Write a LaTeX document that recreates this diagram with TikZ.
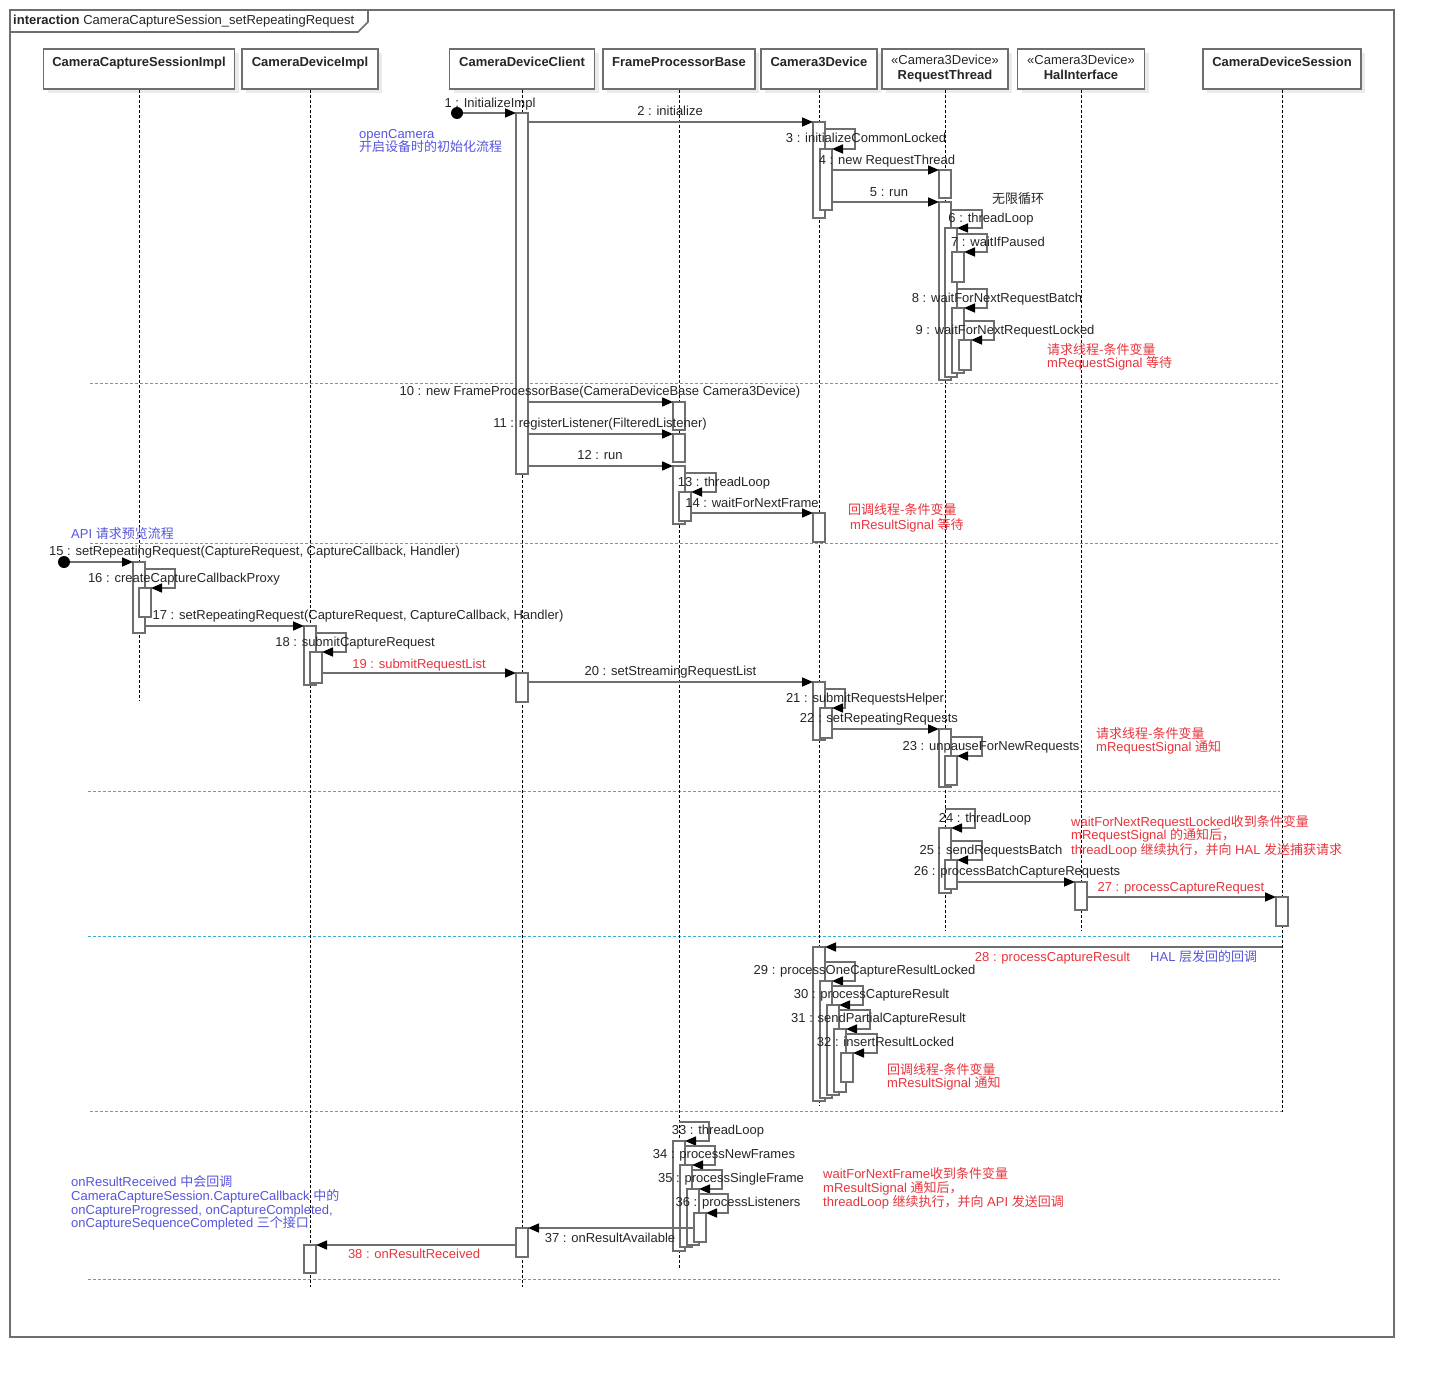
\documentclass[tikz,border=0pt]{standalone}
\usepackage{fontspec}
\setmainfont{Liberation Sans}
\newfontfamily\cjk{Noto Sans CJK SC}
\usetikzlibrary{arrows.meta,shadows}
\definecolor{lg}{HTML}{6E6E6E}
\definecolor{nred}{HTML}{E8353D}
\definecolor{nblue}{HTML}{5555DD}
\definecolor{sepc}{HTML}{3AA8D8}
\newcommand\zh[1]{{\cjk #1}}
\newcommand\mylbl[5][]{\node[lbl,#1] (#2) at (#3,#4+4.5) {#5};}
\newcommand\myact[4]{\node[act, minimum height={#4-#3}, anchor=north] (#1) at (#2,#3) {};}
\newcommand\myself[4]{\draw[msg] (#1.north east |- 0,#2) -- (#3,#2) |- (#4.north east);}
\tikzset{
  every node/.style={font=\fontsize{13}{15}\selectfont},
  frame/.style={draw=lg, line width=1.6},
  head/.style={draw=lg, line width=1.7, fill=white, minimum height=40, inner sep=0,
    general shadow={fill=black!8, shadow xshift=4pt, shadow yshift=-4pt}},
  act/.style={draw=lg, line width=1.6, fill=white, minimum width=12, inner sep=0, outer sep=0},
  lifeline/.style={black, line width=0.8, dash pattern=on 3pt off 2pt},
  msg/.style={lg, line width=1.6, -{Triangle[length=11pt,width=9pt,color=black]}},
  sepline/.style={sepc, line width=1, dash pattern=on 3pt off 2pt},
  lbl/.style={inner sep=0, anchor=base, text=black!85},
  lw/.style={anchor=base west},
  rednote/.style={text=nred},
  bluenote/.style={text=nblue},
  startdot/.style={circle, fill=black, minimum size=12, inner sep=0},
}
\begin{document}
\begin{tikzpicture}[x=1pt,y=-1pt]
\useasboundingbox (0,0) rectangle (1434,1378);
\fill[white] (0,0) rectangle (1434,1378);
% frame
\draw[frame] (10,10) rectangle (1394,1337);
\draw[frame] (10,32) -- (358,32) -- (368,22) -- (368,10);
\node[lbl, lw] (title) at (13,24.5) {\textbf{interaction} CameraCaptureSession\_setRepeatingRequest};
% separators
\draw[sepline] (90,383) -- (1280,383);
\draw[sepline] (90,543) -- (1280,543);
\draw[sepline] (88,791) -- (1280,791);
\draw[sepline] (88,936) -- (1282,936);
\draw[sepline] (90,1111) -- (1282,1111);
\draw[sepline] (88,1279) -- (1280,1279);
% heads
\node[head, minimum width=191] (h1) at (139,69) {};
\node[head, minimum width=136] (h2) at (310,69) {};
\node[head, minimum width=145] (h3) at (522,69) {};
\node[head, minimum width=152] (h4) at (679,69) {};
\node[head, minimum width=116] (h5) at (819,69) {};
\node[head, minimum width=126] (h6) at (945,69) {};
\node[head, minimum width=127] (h7) at (1081,69) {};
\node[head, minimum width=158] (h8) at (1282,69) {};
\node[lbl] (t1) at (139,66.5) {\textbf{CameraCaptureSessionImpl}};
\node[lbl] (t2) at (310,66.5) {\textbf{CameraDeviceImpl}};
\node[lbl] (t3) at (522,66.5) {\textbf{CameraDeviceClient}};
\node[lbl] (t4) at (679,66.5) {\textbf{FrameProcessorBase}};
\node[lbl] (t5) at (819,66.5) {\textbf{Camera3Device}};
\node[lbl] (t6a) at (945,64.5) {«Camera3Device»};
\node[lbl] (t6b) at (945,79.5) {\textbf{RequestThread}};
\node[lbl] (t7a) at (1081,64.5) {«Camera3Device»};
\node[lbl] (t7b) at (1081,79.5) {\textbf{HalInterface}};
\node[lbl] (t8) at (1282,66.5) {\textbf{CameraDeviceSession}};
% lifelines
\coordinate (h1e) at (139,700);
\coordinate (h2e) at (310,1287);
\coordinate (h3e) at (522,1287);
\coordinate (h4e) at (679,1268);
\coordinate (h5e) at (819,1105);
\coordinate (h6e) at (945,930);
\coordinate (h7e) at (1081,930);
\coordinate (h8e) at (1282,1112);
\foreach \i in {1,...,8} {\draw[lifeline] (h\i.south) -- (h\i e);}
% activations
\myact{A1}{522}{113}{474}
\myact{B1}{819}{122}{218}
\myact{B2}{826}{149}{210}
\myact{C1}{945}{170}{198}
\myact{C2}{945}{202}{380}
\myact{C3}{951}{228}{377}
\myact{C4}{958}{252}{282}
\myact{C5}{958}{308}{373}
\myact{C6}{965}{340}{370}
\myact{D1}{679}{402}{430}
\myact{D2}{679}{434}{462}
\myact{D3}{679}{466}{524}
\myact{D4}{685}{492}{521}
\myact{B3}{819}{513}{542}
\myact{E1}{139}{562}{633}
\myact{E2}{145}{588}{617}
\myact{F1}{310}{626}{685}
\myact{F2}{316}{652}{683}
\myact{A2}{522}{673}{702}
\myact{B4}{819}{682}{740}
\myact{B5}{826}{708}{738}
\myact{C7}{945}{729}{787}
\myact{C8}{951}{756}{785}
\myact{C9}{945}{828}{893}
\myact{C10}{951}{860}{889}
\myact{G1}{1081}{882}{910}
\myact{H1}{1282}{897}{926}
\myact{B6}{819}{947}{1101}
\myact{B7}{826}{981}{1098}
\myact{B8}{833}{1005}{1095}
\myact{B9}{840}{1029}{1092}
\myact{B10}{847}{1053}{1082}
\myact{I1}{679}{1141}{1251}
\myact{I2}{686}{1165}{1247}
\myact{I3}{693}{1189}{1245}
\myact{I4}{700}{1213}{1242}
\myact{A3}{522}{1228}{1257}
\myact{F3}{310}{1245}{1273}
% messages
\node[startdot] (s1) at (457,113) {};
\draw[msg] (s1) -- (A1.north west);
\draw[msg] (A1.east |- B1.north west) -- (B1.north west);
\myself{B1}{129}{855}{B2}
\draw[msg] (B2.east |- C1.north west) -- (C1.north west);
\draw[msg] (B2.east |- C2.north west) -- (C2.north west);
\myself{C2}{210}{982}{C3}
\myself{C3}{234}{987}{C4}
\myself{C3}{289}{987}{C5}
\myself{C5}{321}{994}{C6}
\draw[msg] (A1.east |- D1.north west) -- (D1.north west);
\draw[msg] (A1.east |- D2.north west) -- (D2.north west);
\draw[msg] (A1.east |- D3.north west) -- (D3.north west);
\myself{D3}{473}{716}{D4}
\draw[msg] (D4.east |- B3.north west) -- (B3.north west);
\node[startdot] (s15) at (64,562) {};
\draw[msg] (s15) -- (E1.north west);
\myself{E1}{569}{175}{E2}
\draw[msg] (E1.east |- F1.north west) -- (F1.north west);
\myself{F1}{633}{346}{F2}
\draw[msg] (F2.east |- A2.north west) -- (A2.north west);
\draw[msg] (A2.east |- B4.north west) -- (B4.north west);
\myself{B4}{689}{845}{B5}
\draw[msg] (B5.east |- C7.north west) -- (C7.north west);
\myself{C7}{737}{982}{C8}
\draw[msg] (h6 |- 0,809) -- (975,809) |- (C9.north east);
\myself{C9}{841}{982}{C10}
\draw[msg] (C10.east |- G1.north west) -- (G1.north west);
\draw[msg] (G1.east |- H1.north west) -- (H1.north west);
\draw[msg] (h8 |- B6.north east) -- (B6.north east);
\myself{B6}{962}{855}{B7}
\myself{B7}{986}{863}{B8}
\myself{B8}{1010}{870}{B9}
\myself{B9}{1034}{877}{B10}
\draw[msg] (h4 |- 0,1122) -- (709,1122) |- (I1.north east);
\myself{I1}{1146}{715}{I2}
\myself{I2}{1170}{722}{I3}
\myself{I3}{1194}{728}{I4}
\draw[msg] (I4.west |- A3.north east) -- (A3.north east);
\draw[msg] (A3.west |- F3.north east) -- (F3.north east);
% labels
\mylbl{l1}{490}{103}{1 : InitializeImpl}
\mylbl{l2}{670}{111}{2 : initialize}
\mylbl{l3}{866}{138}{3 : initializeCommonLocked}
\mylbl{l4}{887}{160}{4 : new RequestThread}
\mylbl{l5}{889}{192}{5 : run}
\mylbl{inf}{1018}{199}{\zh{无限循环}}
\mylbl{l6}{991}{218}{6 : threadLoop}
\mylbl{l7}{998}{242}{7 : waitIfPaused}
\mylbl{l8}{997}{298}{8 : waitForNextRequestBatch}
\mylbl{l9}{1005}{330}{9 : waitForNextRequestLocked}
\mylbl[lw,rednote]{r1a}{1047}{350}{\zh{请求线程-条件变量}}
\mylbl[lw,rednote]{r1b}{1047}{363}{mRequestSignal \zh{等待}}
\mylbl{l10}{600}{391}{10 : new FrameProcessorBase(CameraDeviceBase Camera3Device)}
\mylbl{l11}{600}{423}{11 : registerListener(FilteredListener)}
\mylbl{l12}{600}{455}{12 : run}
\mylbl{l13}{724}{482}{13 : threadLoop}
\mylbl{l14}{752}{503}{14 : waitForNextFrame}
\mylbl[lw,rednote]{r2a}{848}{510}{\zh{回调线程-条件变量}}
\mylbl[lw,rednote]{r2b}{850}{525}{mResultSignal \zh{等待}}
\mylbl[lw,bluenote]{b1}{71}{534}{API \zh{请求预览流程}}
\mylbl{l15}{254.5}{551}{15 : setRepeatingRequest(CaptureRequest, CaptureCallback, Handler)}
\mylbl{l16}{184}{578}{16 : createCaptureCallbackProxy}
\mylbl{l17}{358}{615}{17 : setRepeatingRequest(CaptureRequest, CaptureCallback, Handler)}
\mylbl{l18}{355}{642}{18 : submitCaptureRequest}
\mylbl[rednote]{l19}{419}{664}{19 : submitRequestList}
\mylbl{l20}{670.5}{671}{20 : setStreamingRequestList}
\mylbl{l21}{865}{698}{21 : submitRequestsHelper}
\mylbl{l22}{879}{718}{22 : setRepeatingRequests}
\mylbl{l23}{991}{746}{23 : unpauseForNewRequests}
\mylbl[lw,rednote]{r3a}{1096}{734}{\zh{请求线程-条件变量}}
\mylbl[lw,rednote]{r3b}{1096}{747}{mRequestSignal \zh{通知}}
\mylbl{l24}{985}{818}{24 : threadLoop}
\mylbl{l25}{991}{850}{25 : sendRequestsBatch}
\mylbl{l26}{1017}{871}{26 : processBatchCaptureRequests}
\mylbl[rednote]{l27}{1181}{887}{27 : processCaptureRequest}
\mylbl[lw,rednote]{r4a}{1071}{822}{waitForNextRequestLocked\zh{收到条件变量}}
\mylbl[lw,rednote]{r4b}{1071}{835}{mRequestSignal \zh{的通知后，}}
\mylbl[lw,rednote]{r4c}{1071}{850}{threadLoop \zh{继续执行，并向} HAL \zh{发送捕获请求}}
\mylbl[rednote]{l28}{1052.5}{957}{28 : processCaptureResult}
\mylbl[lw,bluenote]{b2}{1150}{957}{HAL \zh{层发回的回调}}
\mylbl{l29}{864.5}{970}{29 : processOneCaptureResultLocked}
\mylbl{l30}{871.5}{994}{30 : processCaptureResult}
\mylbl{l31}{878.5}{1018}{31 : sendPartialCaptureResult}
\mylbl{l32}{885.5}{1042}{32 : insertResultLocked}
\mylbl[lw,rednote]{r5a}{887}{1070}{\zh{回调线程-条件变量}}
\mylbl[lw,rednote]{r5b}{887}{1083}{mResultSignal \zh{通知}}
\mylbl{l33}{718}{1130}{33 : threadLoop}
\mylbl{l34}{724}{1154}{34 : processNewFrames}
\mylbl{l35}{731}{1178}{35 : processSingleFrame}
\mylbl{l36}{738}{1202}{36 : processListeners}
\mylbl[lw,rednote]{r6a}{823}{1174}{waitForNextFrame\zh{收到条件变量}}
\mylbl[lw,rednote]{r6b}{823}{1188}{mResultSignal \zh{通知后，}}
\mylbl[lw,rednote]{r6c}{823}{1202}{threadLoop \zh{继续执行，并向} API \zh{发送回调}}
\mylbl[lw,bluenote]{b3a}{71}{1182}{onResultReceived \zh{中会回调}}
\mylbl[lw,bluenote]{b3b}{71}{1196}{CameraCaptureSession.CaptureCallback \zh{中的}}
\mylbl[lw,bluenote]{b3c}{71}{1210}{onCaptureProgressed, onCaptureCompleted,}
\mylbl[lw,bluenote]{b3d}{71}{1223}{onCaptureSequenceCompleted \zh{三个接口}}
\mylbl{l37}{610}{1238}{37 : onResultAvailable}
\mylbl[rednote]{l38}{414}{1254}{38 : onResultReceived}
\mylbl[lw,bluenote]{b4a}{359}{134}{openCamera}
\mylbl[lw,bluenote]{b4b}{359}{147}{\zh{开启设备时的初始化流程}}
\end{tikzpicture}
\end{document}
